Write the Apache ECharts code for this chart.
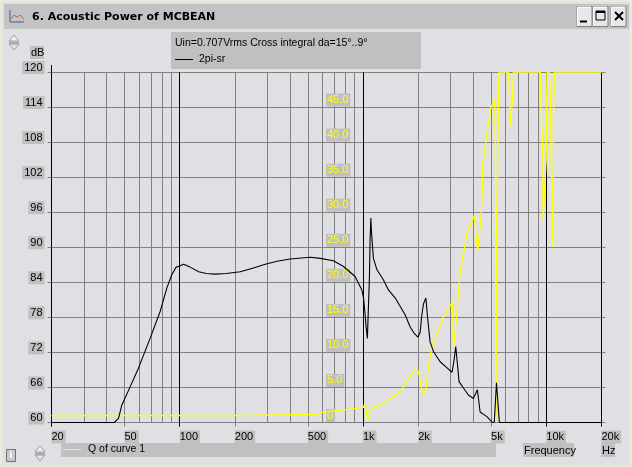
<!DOCTYPE html>
<html><head><meta charset="utf-8">
<style>html,body{margin:0;padding:0;background:#e0e0e4}#c{width:632px;height:467px}</style>
<script src="https://cdn.jsdelivr.net/npm/echarts@6/dist/echarts.min.js"></script>
</head><body><div id="c"></div>
<script>
const titleText = '6. Acoustic Power of MCBEAN';
const subtitleText = 'Uin=0.707Vrms Cross integral da=15°..9°';
const seriesName1 = '2pi-sr';
const seriesName2 = 'Q of curve 1';
const gridFreqs = [20,30,40,50,60,70,80,90,100,200,300,400,500,600,700,800,900,1000,2000,3000,4000,5000,6000,7000,8000,9000,10000,20000];
const majorFreqs = [20,100,1000,10000,20000];
const labelFreqs = [20,50,100,200,500,1000,2000,5000,10000,20000];
const qTicks = [0,5,10,15,20,25,30,35,40,45];
const curveFreq = [20,44,46.4,48.4,53.7,59.6,69,78.3,85.1,90.6,95.7,100,105,114,127,140,156,180,214,250,293,340,401,515,585,690,783,906,986,1007,1028,1040,1057,1074,1084,1094,1104,1114,1140,1190,1294,1377,1500,1700,1807,1910,1995,2051,2094,2138,2203,2249,2323,2427,2636,2864,3062,3140,3206,3273,3342,3532,3758,4000,4207,4355,4742,5047,5200,5260,5346,5433,5546,20000];
const curveDb = [60,60,60.7,63,66.1,69.3,74.4,79,83,85.3,86.6,86.8,87.1,86.6,85.8,85.5,85.4,85.5,85.8,86.4,87.1,87.6,88,88.3,88.1,87.7,86.7,85,82.7,81.3,78.4,76.4,74.4,81,84.7,91.5,95,92.4,88.1,86.2,84.4,82.7,81.3,78.4,76.4,75.2,74.6,75.5,78.4,80.3,81.3,78.1,73.8,72.1,70.4,69.4,68.6,70.7,73,70.1,67,65.9,64.7,64.1,65.6,61.8,61,60.1,60,62.7,66.8,63.9,60,60];
const qFreq = [20,216,217,560,585,783,1007,1020,1038,1060,1094,1140,1294,1467,1630,1770,1910,1982,2027,2113,2203,2275,2377,2529,2748,3076,3119,3140,3251,3388,3532,3715,4045,4217,4395,4456,4508,4842,4989,5236,5260,5290,5310,5370,5450,5520,6223,6380,6540,6620,9270,9350,9590,9600,9800,9990,10070,10400,10540,10650,10870,10940,11070,20000];
const qVal = [0,0,0.14,0.14,0.45,0.8,1.17,1.64,0.8,-0.64,0.55,1.17,1.74,2.69,3.64,5.31,6.5,6.5,5.79,3.07,3.64,6.97,9.83,11.74,14.1,16.2,9.83,9.83,14.6,20.5,23.2,26.3,28.5,23.4,27.9,30.8,36,42,43.9,45.2,45,34,-0.3,25,40.8,49,49,41.3,45.3,49,49,44.8,36.3,27.9,27.9,36.5,49,49,44.8,36.5,24,42.7,49,49];

const GRAY='#808080', BG='#c0c0c0', FONT='"Liberation Sans",Arial,sans-serif';
const pair=(a,b)=>a.map((v,i)=>[v,b[i]]);
const fmtF=v=>v>=1000?(v/1000)+'k':String(v);
const rect=(x,y,w,h,fill,stroke)=>({type:'rect',shape:{x,y,width:w,height:h},style:{fill,stroke:stroke||null,lineWidth:1},silent:true});
const line=(x1,y1,x2,y2,c,w)=>({type:'line',shape:{x1,y1,x2,y2},style:{stroke:c,lineWidth:w||1},silent:true});
const txt=(x,y,t,extra)=>({type:'text',x,y,style:Object.assign({text:t,fill:'#000',font:'10.5px '+FONT,verticalAlign:'middle'},extra||{}),silent:true});
const button=(x)=>[rect(x,6.5,15,20,'#e8e8e8','#808080'),line(x+.5,7,x+14,7,'#fff'),line(x+.5,7,x+.5,26,'#fff')];
const spinner=(x,y)=>[
 {type:'polygon',shape:{points:[[x,y+6],[x+5,y],[x+10,y+6]]},style:{fill:'#f0f0f0',stroke:'#a0a0a0'},silent:true},
 rect(x,y+6,10,3,'#b0b0b0'),
 {type:'polygon',shape:{points:[[x,y+9],[x+5,y+15],[x+10,y+9]]},style:{fill:'#e0e0e4',stroke:'#a0a0a0'},silent:true}];

const graphicEls=[
 rect(0,0,632,467,'#ece9d8'),
 rect(2,2,627.5,463,'#e0e0e4'),
 rect(4,4,625,25,'#c3c3c3'),
 {type:'polyline',shape:{points:[[10,10],[10,22],[24,22]]},style:{stroke:'#5050a0',fill:null},silent:true},
 {type:'polyline',shape:{points:[[11,19],[14,15],[17,17],[20,15],[24,19]]},style:{stroke:'#c06060',fill:null},silent:true},
 ...button(577),...button(593),...button(611),
 line(580,21.5,587,21.5,'#000',2),
 rect(596,11,9,9,null,'#000'),line(596,12,605,12,'#000',2),
 line(615,12,623,20,'#000',2),line(623,12,615,20,'#000',2),
 rect(171,32,250,37,BG),
 rect(61,443,435,14,BG),
 rect(523,443,51,14,BG),
 rect(601,443,14,14,BG),
 rect(30,46,14,13,BG),
 txt(31,52.5,'dB',{font:'11px '+FONT}),
 txt(524,450.5,'Frequency',{font:'11px '+FONT}),
 txt(602,450.5,'Hz',{font:'11px '+FONT}),
 txt(175,43,subtitleText),
 line(51.5,65,51.5,72,'#000'),
 ...spinner(9,35),...spinner(35,446),
 rect(6.5,449.5,9,12,'#c8c8c8','#707070'),
 txt(9.5,455.5,'i',{font:'bold 10px '+FONT,fill:'#fff'})
];

const chart=echarts.init(document.getElementById('c'),null,{renderer:'canvas'});
const xBase={type:'log',logBase:10,min:20,max:20000,gridIndex:0,position:'bottom',axisLine:{show:false},axisLabel:{show:false},axisTick:{show:false},splitLine:{show:false}};
chart.setOption({
 animation:false,
 backgroundColor:'#e0e0e4',
 title:{text:titleText,left:32,top:12,padding:0,textStyle:{fontFamily:'"DejaVu Sans",sans-serif',fontWeight:'bold',fontSize:11,color:'#000'}},
 legend:[
  {data:[seriesName1],left:175,top:54,padding:0,icon:'rect',itemWidth:18,itemHeight:1,itemGap:6,textStyle:{fontFamily:FONT,fontSize:10.5,color:'#000',padding:[0,0,0,1]}},
  {data:[seriesName2],left:63,top:444,padding:0,icon:'rect',itemWidth:18,itemHeight:1,itemGap:6,textStyle:{fontFamily:FONT,fontSize:10.5,color:'#000',padding:[0,0,0,2]}}
 ],
 graphic:{elements:graphicEls},
 grid:[{left:51.5,top:72,width:550,height:350.5},{left:51.5,top:67.5,width:550,height:350.5}],
 xAxis:[
  Object.assign({},xBase,{axisTick:{show:false,customValues:gridFreqs},axisLabel:{show:false,customValues:gridFreqs},
    splitLine:{show:true,lineStyle:{width:1,color:gridFreqs.map(f=>majorFreqs.includes(f)?'#000':GRAY)}}}),
  Object.assign({},xBase,{axisTick:{show:true,length:4,customValues:labelFreqs,lineStyle:{color:GRAY}},
    axisLabel:{show:true,customValues:labelFreqs,margin:8,align:'left',hideOverlap:false,showMinLabel:true,showMaxLabel:true,
      formatter:v=>fmtF(Math.round(v)),fontFamily:FONT,fontSize:11,color:'#000',backgroundColor:BG,padding:[0,2,0,0],lineHeight:13}}),
  Object.assign({},xBase,{axisTick:{show:true,length:4,customValues:majorFreqs,lineStyle:{color:'#000'}}}),
  Object.assign({},xBase,{gridIndex:1,show:false})
 ],
 yAxis:[
  {type:'value',min:60,max:120,interval:6,gridIndex:0,axisLine:{show:false},axisLabel:{show:false},
   axisTick:{show:true,length:4,lineStyle:{color:GRAY}},splitLine:{show:true,lineStyle:{color:GRAY,width:1}}},
  {type:'value',min:-1,max:49,gridIndex:0,position:'left',offset:-274.5,axisLine:{show:false},splitLine:{show:false},axisTick:{show:false,customValues:qTicks},
   axisLabel:{show:true,customValues:qTicks,margin:0,align:'left',color:'#ffff00',fontFamily:FONT,fontSize:11,backgroundColor:BG,padding:[0,2,0,1],lineHeight:13,
     hideOverlap:false,formatter:v=>v===0?'0':Number(v).toFixed(1)}},
  {type:'value',min:60,max:120,interval:6,gridIndex:0,position:'right',axisLine:{show:false},axisLabel:{show:false},splitLine:{show:false},
   axisTick:{show:true,length:4,lineStyle:{color:GRAY}}},
  {type:'value',min:60,max:120,interval:6,gridIndex:1,position:'left',axisLine:{show:false},axisTick:{show:false},splitLine:{show:false},
   axisLabel:{show:true,margin:7,color:'#000',fontFamily:FONT,fontSize:11,backgroundColor:BG,padding:[0,2,0,2],lineHeight:13}}
 ],
 series:[
  {name:seriesName2,type:'line',xAxisIndex:0,yAxisIndex:1,data:pair(qFreq,qVal),showSymbol:false,clip:false,itemStyle:{color:'#ffff00'},lineStyle:{color:'#ffff00',width:1.3},z:3},
  {name:seriesName1,type:'line',xAxisIndex:0,yAxisIndex:0,data:pair(curveFreq,curveDb),showSymbol:false,clip:false,itemStyle:{color:'#000'},lineStyle:{color:'#000',width:1.1},z:4}
 ]
});
</script></body></html>
